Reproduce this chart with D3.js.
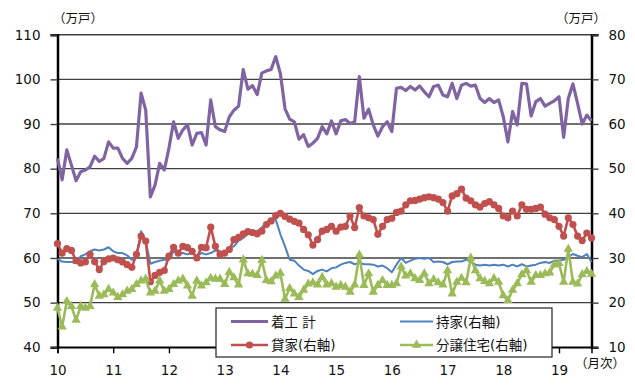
<!DOCTYPE html>
<html>
<head>
<meta charset="utf-8">
<script src="https://cdn.jsdelivr.net/npm/d3@7"></script>
<style>
  body { margin: 0; background: #fff; }
  text { font-family: "DejaVu Sans", "Noto Sans CJK JP", sans-serif; }
</style>
</head>
<body>
<div id="chart"></div>
<script>
// monthly, Jan 2010 .. Aug 2019
const yearLabels = ['10', '11', '12', '13', '14', '15', '16', '17', '18', '19'];

// 着工 計 (left axis, 万戸)
const total = [
  82.3, 77.5, 84.2, 80.8, 77.3, 79.3, 79.7, 80.4, 82.8, 81.6, 82.3, 86.0,
  84.6, 84.6, 82.3, 81.2, 82.3, 84.9, 96.9, 93.1, 73.7, 76.3, 81.2, 79.7,
  84.6, 90.5, 86.8, 88.7, 89.8, 85.3, 87.9, 88.1, 85.3, 95.4, 89.4, 88.7,
  88.3, 91.6, 93.1, 94.0, 102.2, 97.8, 98.6, 96.6, 101.4, 101.9, 102.2, 105.1,
  101.3, 93.4, 91.1, 90.5, 86.6, 87.6, 85.0, 85.7, 86.8, 89.4, 87.8, 90.7,
  87.8, 90.7, 91.0, 90.1, 90.5, 100.6, 91.3, 93.3, 89.8, 87.3, 89.4, 90.5,
  88.3, 98.0, 98.2, 97.5, 98.4, 97.6, 98.5, 97.2, 96.1, 98.4, 98.7, 96.5,
  96.1, 99.1, 95.7, 98.7, 99.1, 98.5, 98.7, 95.7, 94.8, 95.7, 94.8, 95.4,
  91.6, 86.0, 92.8, 89.8, 99.1, 99.0, 91.8, 95.0, 95.7, 94.0, 94.6, 95.2,
  96.1, 87.0, 95.7, 99.0, 94.6, 90.0, 92.0, 90.7
];

// 持家 (right axis)
const owned = [
  29.8, 29.2, 29.1, 29.1, 28.9, 30.4, 30.8, 31.5, 31.9, 31.7, 31.9, 32.4,
  31.5, 31.1, 31.1, 30.6, 29.6, 30.4, 36.0, 33.8, 28.7, 29.1, 29.4, 29.6,
  29.6, 31.5, 30.8, 31.1, 30.8, 31.1, 30.4, 31.1, 30.8, 31.1, 31.7, 31.5,
  30.8, 32.3, 32.6, 33.9, 34.5, 35.4, 36.0, 36.0, 36.8, 38.0, 38.8, 38.6,
  35.3, 32.6, 29.6, 29.4, 28.3, 27.4, 27.1, 26.4, 27.1, 27.4, 27.0, 27.7,
  27.9, 28.5, 28.9, 29.1, 28.6, 28.9, 28.6, 28.6, 28.5, 28.1, 28.3, 27.7,
  26.8, 28.5, 30.0, 28.9, 29.4, 29.8, 30.0, 29.8, 30.0, 29.1, 29.2, 29.1,
  28.6, 29.1, 29.2, 29.2, 29.6, 29.2, 28.5, 28.3, 28.5, 28.3, 28.5, 28.3,
  28.5, 28.1, 28.5, 28.1, 28.6, 28.1, 28.3, 28.5, 28.9, 29.1, 28.9, 29.4,
  29.4, 29.6, 30.2, 30.9, 30.5, 30.2, 30.9, 29.1
];

// 貸家 (right axis)
const rental = [
  33.2, 31.1, 32.1, 31.7, 29.4, 28.9, 29.1, 30.8, 29.2, 27.4, 29.2, 29.8,
  30.0, 29.6, 29.1, 28.5, 27.9, 30.8, 34.9, 33.8, 24.7, 26.1, 26.8, 27.2,
  30.4, 32.4, 31.1, 32.6, 32.3, 31.5, 30.0, 32.4, 32.3, 36.9, 32.6, 30.8,
  31.1, 31.9, 34.1, 34.6, 35.4, 35.9, 35.7, 35.4, 36.0, 37.5, 38.3, 39.5,
  40.0, 39.3, 38.7, 38.2, 37.8, 36.4, 35.2, 32.9, 34.1, 36.0, 36.4, 37.1,
  36.0, 36.9, 37.1, 39.4, 36.8, 41.3, 39.4, 39.0, 38.6, 35.3, 37.1, 38.6,
  38.9, 40.2, 40.5, 41.9, 42.8, 42.9, 43.2, 43.5, 43.7, 43.5, 43.2, 42.4,
  40.5, 43.9, 44.4, 45.4, 43.4, 42.8, 41.9, 41.4, 42.2, 42.6, 41.9, 41.1,
  39.4, 39.0, 40.5, 39.4, 41.9, 40.9, 40.9, 41.1, 41.4, 39.8, 39.0, 38.6,
  37.1, 34.9, 39.0, 37.5, 34.9, 33.9, 35.6, 34.5
];

// 分譲住宅 (right axis)
const forSale = [
  18.8, 14.6, 20.3, 19.2, 16.1, 19.2, 18.8, 19.2, 24.1, 21.5, 21.8, 23.0,
  22.2, 21.2, 21.8, 22.6, 23.0, 24.1, 24.9, 25.3, 22.2, 22.6, 24.9, 22.6,
  23.0, 24.1, 24.9, 25.3, 23.8, 21.5, 24.9, 23.8, 24.5, 25.5, 25.3, 25.3,
  24.1, 26.8, 25.6, 24.0, 29.6, 26.5, 26.4, 26.1, 29.5, 25.0, 24.7, 26.0,
  26.6, 20.8, 23.2, 22.0, 21.2, 22.8, 24.2, 24.5, 24.0, 25.7, 24.0, 24.3,
  23.5, 23.9, 23.5, 22.4, 24.0, 30.7, 23.9, 26.5, 22.4, 23.9, 25.0, 23.9,
  23.9, 24.3, 28.0, 26.0, 26.5, 25.4, 25.0, 26.5, 24.3, 25.2, 24.5, 24.0,
  27.2, 22.0, 24.6, 25.5, 24.5, 30.0, 27.2, 25.4, 24.8, 24.3, 25.4, 24.6,
  21.6, 20.5, 22.8, 24.3, 26.3, 27.2, 24.6, 26.1, 26.1, 26.5, 26.7, 28.5,
  28.8, 24.6, 32.0, 24.6, 24.2, 26.3, 27.0, 26.4
];

const leftTicks = [40, 50, 60, 70, 80, 90, 100, 110];
const rightTicks = [10, 20, 30, 40, 50, 60, 70, 80];

const W = 635, H = 385;
const plot = { left: 57.5, right: 591.5, top: 34.7, bottom: 347.3 };

const svg = d3.select('#chart').append('svg')
    .attr('width', W)
    .attr('height', H);

const x = d3.scalePoint()
    .domain(d3.range(total.length))
    .range([plot.left, plot.right]);

const yL = d3.scaleLinear()
    .domain([40, 110])
    .range([plot.bottom, plot.top]);

const yR = d3.scaleLinear()
    .domain([10, 80])
    .range([plot.bottom, plot.top]);

// gridlines
svg.append('g')
  .selectAll('line')
  .data(leftTicks)
  .join('line')
    .attr('x1', plot.left)
    .attr('x2', plot.right)
    .attr('y1', d => yL(d))
    .attr('y2', d => yL(d))
    .attr('stroke', d => d === 40 ? '#000' : '#404040')
    .attr('stroke-width', d => d === 40 ? 1.5 : 1.4);

// left axis
const axL = svg.append('g')
    .attr('transform', `translate(${plot.left},0)`)
    .call(d3.axisLeft(yL).tickValues(leftTicks).tickSize(7).tickPadding(10));
axL.select('.domain').attr('stroke', '#000').attr('stroke-width', 2.5);
axL.selectAll('.tick line').attr('stroke', '#404040').attr('stroke-width', 1.4);
axL.selectAll('text')
    .attr('font-size', 13.5)
    .attr('fill', '#111')
    .attr('font-family', '"DejaVu Sans", sans-serif');

// right axis
const axR = svg.append('g')
    .attr('transform', `translate(${plot.right},0)`)
    .call(d3.axisRight(yR).tickValues(rightTicks).tickSize(7).tickPadding(10));
axR.select('.domain').attr('stroke', '#000').attr('stroke-width', 2.5);
axR.selectAll('.tick line').attr('stroke', '#404040').attr('stroke-width', 1.4);
axR.selectAll('text')
    .attr('font-size', 13.5)
    .attr('fill', '#111')
    .attr('font-family', '"DejaVu Sans", sans-serif');

// bottom axis, one tick per January
const yearIdx = yearLabels.map((d, i) => i * 12);
const axB = svg.append('g')
    .attr('transform', `translate(0,${plot.bottom})`)
    .call(d3.axisBottom(x).tickValues(yearIdx).tickSize(6).tickPadding(12)
      .tickFormat((d, i) => yearLabels[i]));
axB.select('.domain').attr('stroke', '#000').attr('stroke-width', 1.5);
axB.selectAll('.tick line').attr('stroke', '#000').attr('stroke-width', 1.4);
axB.selectAll('text')
    .attr('font-size', 13.5)
    .attr('fill', '#111')
    .attr('font-family', '"DejaVu Sans", sans-serif');

// series
const colors = { total: '#8064A2', owned: '#4F81BD', rental: '#C0504D', forSale: '#9BBB59' };

function drawLine(data, scale, color, width) {
  svg.append('path')
      .datum(data)
      .attr('fill', 'none')
      .attr('stroke', color)
      .attr('stroke-width', width)
      .attr('stroke-linejoin', 'round')
      .attr('d', d3.line().x((d, i) => x(i)).y(d => scale(d)));
}

drawLine(total, yL, colors.total, 3.2);
drawLine(owned, yR, colors.owned, 2);
drawLine(rental, yR, colors.rental, 2.6);

svg.append('g')
  .selectAll('circle')
  .data(rental)
  .join('circle')
    .attr('cx', (d, i) => x(i))
    .attr('cy', d => yR(d))
    .attr('r', 3.6)
    .attr('fill', colors.rental);

drawLine(forSale, yR, colors.forSale, 2.6);

const tri = d3.symbol().type(d3.symbolTriangle).size(38);
svg.append('g')
  .selectAll('path')
  .data(forSale)
  .join('path')
    .attr('transform', (d, i) => `translate(${x(i)},${yR(d)})`)
    .attr('d', tri)
    .attr('fill', colors.forSale);

// legend
const legend = svg.append('g');
legend.append('rect')
    .attr('x', 216)
    .attr('y', 308)
    .attr('width', 336)
    .attr('height', 49)
    .attr('fill', '#fff')
    .attr('stroke', '#222')
    .attr('stroke-width', 1.2);

const items = [
  { name: '着工 計', color: colors.total, mark: null, w: 3.2, x: 231, y: 321.5 },
  { name: '持家(右軸)', color: colors.owned, mark: null, w: 2, x: 400, y: 321.5 },
  { name: '貸家(右軸)', color: colors.rental, mark: 'circle', w: 2.6, x: 231, y: 345 },
  { name: '分譲住宅(右軸)', color: colors.forSale, mark: 'tri', w: 2.6, x: 400, y: 345 }
];

items.forEach(d => {
  const len = d.x < 300 ? 37 : 33;
  legend.append('line')
      .attr('x1', d.x)
      .attr('x2', d.x + len)
      .attr('y1', d.y)
      .attr('y2', d.y)
      .attr('stroke', d.color)
      .attr('stroke-width', d.w);
  if (d.mark === 'circle') {
    legend.append('circle')
        .attr('cx', d.x + len / 2)
        .attr('cy', d.y)
        .attr('r', 3.6)
        .attr('fill', d.color);
  } else if (d.mark === 'tri') {
    legend.append('path')
        .attr('transform', `translate(${d.x + len / 2},${d.y})`)
        .attr('d', tri)
        .attr('fill', d.color);
  }
  legend.append('text')
      .attr('x', d.x + len + 3)
      .attr('y', d.y)
      .attr('dominant-baseline', 'central')
      .attr('font-size', 13.5)
      .attr('font-family', '"Noto Sans CJK JP", sans-serif')
      .attr('fill', '#111')
      .text(d.name);
});

// unit labels
const units = [
  { t: '（万戸）', x: 78, y: 18 },
  { t: '（万戸）', x: 581, y: 18 },
  { t: '（月次）', x: 600, y: 363 }
];
svg.append('g')
  .selectAll('text')
  .data(units)
  .join('text')
    .attr('x', d => d.x)
    .attr('y', d => d.y)
    .attr('text-anchor', 'middle')
    .attr('dominant-baseline', 'central')
    .attr('font-size', 12.5)
    .attr('font-family', '"Noto Sans CJK JP", sans-serif')
    .attr('fill', '#111')
    .text(d => d.t);
</script>
</body>
</html>
